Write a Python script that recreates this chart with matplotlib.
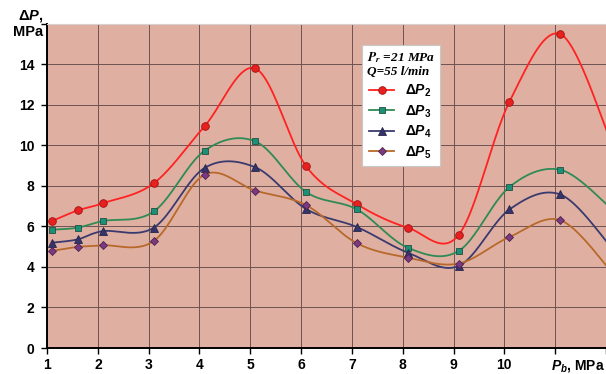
"""
Pressure drops dP2..dP5 versus Pb, smooth Excel-style curves on a salmon grid.
"""
import numpy as np
import matplotlib
matplotlib.use('Agg')
import matplotlib.pyplot as plt
from matplotlib.lines import Line2D

plt.rcParams['font.family'] = ['Liberation Sans', 'DejaVu Sans']
plt.rcParams['font.weight'] = 'bold'
plt.rcParams['mathtext.fontset'] = 'custom'
plt.rcParams['mathtext.rm'] = 'Liberation Sans:bold'
plt.rcParams['mathtext.it'] = 'Liberation Sans:italic:bold'
plt.rcParams['mathtext.bf'] = 'Liberation Sans:bold'

# --- data ---
PB = [1.1, 1.6, 2.1, 3.1, 4.1, 5.1, 6.1, 7.1, 8.1, 9.1, 10.1, 11.1, 12.1]
DP2 = [6.27, 6.79, 7.15, 8.13, 10.95, 13.8, 8.97, 7.09, 5.94, 5.58, 12.16, 15.5, 10.2]
DP3 = [5.84, 5.94, 6.27, 6.74, 9.74, 10.2, 7.70, 6.84, 4.95, 4.79, 7.95, 8.80, 6.9]
DP4 = [5.20, 5.36, 5.77, 5.94, 8.89, 8.92, 6.86, 5.97, 4.71, 4.05, 6.84, 7.58, 5.0]
DP5 = [4.79, 4.99, 5.07, 5.28, 8.56, 7.77, 7.05, 5.17, 4.46, 4.17, 5.48, 6.31, 3.8]

X_TICKS = [1, 2, 3, 4, 5, 6, 7, 8, 9, 10, 11, 12]
X_LABELS = ['1', '2', '3', '4', '5', '6', '7', '8', '9', '10', '', '']
Y_TICKS = [0, 2, 4, 6, 8, 10, 12, 14, 16]
Y_LABELS = ['0', '2', '4', '6', '8', '10', '12', '14', '']

SERIES = [
    (DP2, r'$\Delta P_2$', '#ff2222', 'o', '#e82020', '#a01010', 5.5),
    (DP3, r'$\Delta P_3$', '#2f8a55', 's', '#1b9078', '#245040', 5.0),
    (DP4, r'$\Delta P_4$', '#3a3a6e', '^', '#35356c', '#25254a', 6.0),
    (DP5, r'$\Delta P_5$', '#b8692a', 'D', '#7a3a80', '#502050', 3.8),
]


def smooth(xs, ys, n=40):
    """Bezier smoothing like a spreadsheet 'smoothed line'."""
    p = np.column_stack([xs, ys]).astype(float)
    out = [p[0]]
    for i in range(len(p) - 1):
        p0 = p[i - 1] if i > 0 else p[i]
        p3 = p[i + 2] if i + 2 < len(p) else p[i + 1]
        c1 = p[i] + (p[i + 1] - p0) / 6.0
        c2 = p[i + 1] - (p3 - p[i]) / 6.0
        t = np.linspace(0, 1, n)[1:, None]
        seg = ((1 - t) ** 3 * p[i] + 3 * (1 - t) ** 2 * t * c1
               + 3 * (1 - t) * t ** 2 * c2 + t ** 3 * p[i + 1])
        out.extend(seg)
    out = np.array(out)
    return out[:, 0], out[:, 1]


fig = plt.figure(figsize=(6.06, 3.74), dpi=100)
ax = fig.add_axes([0.0776, 0.0695, 0.9224, 0.8665])
ax.set_facecolor('#dfb0a2')

for ys, label, lc, mk, mfc, mec, ms in SERIES:
    sx, sy = smooth(PB, ys)
    ax.plot(sx, sy, color=lc, linewidth=1.3, zorder=3)
    ax.plot(PB, ys, linestyle='none', marker=mk, markersize=ms,
            markerfacecolor=mfc, markeredgecolor=mec, markeredgewidth=0.6, zorder=4)

ax.set_xlim(1, 12)
ax.set_ylim(0, 16)
ax.set_xticks(X_TICKS)
ax.set_xticklabels(X_LABELS)
ax.set_yticks(Y_TICKS)
ax.set_yticklabels(Y_LABELS)
ax.tick_params(axis='both', labelsize=10, length=4, width=1, direction='out',
               colors='black', pad=3)
ax.tick_params(axis='y', pad=5)
ax.grid(color='#6e5252', linewidth=0.7)
ax.set_axisbelow(True)
for side in ('left', 'bottom'):
    ax.spines[side].set_linewidth(1.4)
    ax.spines[side].set_color('black')
ax.spines['top'].set_color('#d8d0cc')
ax.spines['right'].set_visible(False)

# axis titles
fig.text(0.071, 0.937, r'$\Delta P$,' + '\nMPa', ha='right', va='center',
         fontsize=10.5, fontweight='bold', multialignment='right', linespacing=1.05)
ax.text(11.45, -0.5, r'$P_b$, MPa', ha='center', va='top', fontsize=10,
        fontweight='bold')

# legend
handles = [Line2D([], [], color=lc, linewidth=1.3, marker=mk, markersize=ms,
                  markerfacecolor=mfc, markeredgecolor=mec, markeredgewidth=0.6)
           for _, _, lc, mk, mfc, mec, ms in SERIES]
labels = [s[1] for s in SERIES]
leg = ax.legend(handles, labels, loc='upper left', bbox_to_anchor=(0.563, 0.935),
                title=r'$P_r$ =21 MPa' + '\nQ=55 l/min',
                title_fontproperties={'family': 'Liberation Serif', 'style': 'italic',
                                      'weight': 'bold', 'size': 9.5, 'math_fontfamily': 'stix'},
                fontsize=10, frameon=True, fancybox=False, framealpha=1,
                edgecolor='#c8c8c8', handlelength=1.8, handletextpad=0.8,
                labelspacing=0.3, borderpad=0.35, borderaxespad=0)
leg.get_frame().set_linewidth(0.8)
leg._legend_box.align = 'center'

plt.savefig('out.png', dpi=100)
